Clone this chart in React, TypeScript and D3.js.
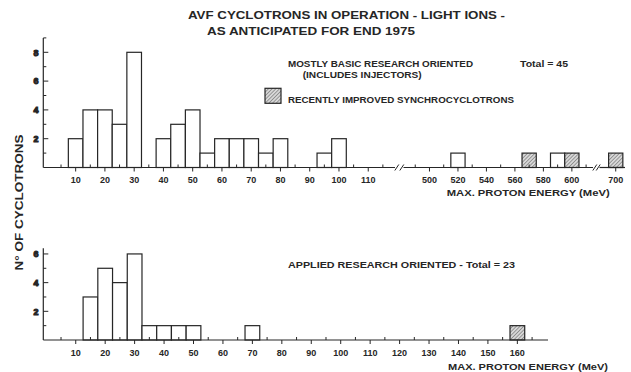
import * as d3 from 'd3';

// counts per energy bin
const topOpenEnergy = [10, 15, 20, 25, 30, 40, 45, 50, 55, 60, 65, 70, 75, 80, 95, 100, 520, 590];
const topOpenCount = [2, 4, 4, 3, 8, 2, 3, 4, 1, 2, 2, 2, 1, 2, 1, 2, 1, 1];
const topHatchEnergy = [570, 600, 700];
const topHatchCount = [1, 1, 1];

const botOpenEnergy = [15, 20, 25, 30, 35, 40, 45, 50, 70];
const botOpenCount = [3, 5, 4, 6, 1, 1, 1, 1, 1];
const botHatchEnergy = [160];
const botHatchCount = [1];

const topTickLabels = [10, 20, 30, 40, 50, 60, 70, 80, 90, 100, 110, 500, 520, 540, 560, 580, 600, 700];
const botTickLabels = [10, 20, 30, 40, 50, 60, 70, 80, 90, 100, 110, 120, 130, 140, 150, 160];
const topYLabels = [2, 4, 6, 8];
const botYLabels = [2, 4, 6];

const ink = '#262626';
const font = '"Liberation Sans", Arial, sans-serif';

// broken axis: 0-120 | 480-610 | 690-
const xTop = d3.scaleLinear().domain([0, 120, 480, 610, 690, 712]).range([46.4, 397.5, 401, 586.1, 601.5, 632.8]);
const xBot = d3.scaleLinear().domain([0, 170]).range([46.3, 546.8]);
const yTop = d3.scaleLinear().domain([0, 9]).range([167.5, 37.9]);
const yBot = d3.scaleLinear().domain([0, 6.4]).range([340, 248.2]);

const binWidth = (e: number) => (e >= 480 ? 10 : 5);

const Txt = ({ x, y, len, size = 9, anchor = 'start', children }: any) => (
	<text
		x={x}
		y={y}
		textLength={len}
		lengthAdjust='spacingAndGlyphs'
		textAnchor={anchor}
		fontFamily={font}
		fontWeight={700}
		fontSize={size}
		fill={ink}>
		{children}
	</text>
);

const Bars = ({ energy, count, x, y, hatch }: any) => (
	<g>
		{energy.map((e: number, i: number) => {
			const w = binWidth(e);
			const x0 = x(e - w / 2);
			const x1 = x(e + w / 2);
			return (
				<rect
					key={i}
					x={x0}
					y={y(count[i])}
					width={x1 - x0}
					height={y(0) - y(count[i])}
					fill={hatch ? 'url(#hatch)' : 'white'}
					stroke={ink}
					strokeWidth={1.2}
				/>
			);
		})}
	</g>
);

const YAxis = ({ y, max, labels }: any) => {
	const x0 = 43.3;
	const ticks = d3.range(1, Math.floor(max) + 1);
	return (
		<g stroke={ink}>
			<line x1={x0} x2={x0} y1={y(0)} y2={y(max)} strokeWidth={1.2} />
			{ticks.map((t: number) => (
				<line key={t} x1={x0} x2={x0 + (t % 2 === 0 ? 5 : 3)} y1={y(t)} y2={y(t)} strokeWidth={1} />
			))}
			{labels.map((t: number) => (
				<Txt key={'l' + t} x={38.5} y={y(t) + 3.3} anchor='end' size={9}>
					{t}
				</Txt>
			))}
		</g>
	);
};

const Slash = ({ x, y }: any) => <line x1={x - 2} x2={x + 2} y1={y + 3} y2={y - 3} stroke={ink} strokeWidth={1} />;

export default function App() {
	const yT0 = yTop(0);
	const yB0 = yBot(0);

	const topMinor = [...d3.range(5, 120, 5), ...d3.range(490, 611, 10)].filter((t) => !topTickLabels.includes(t));
	const botMinor = d3.range(5, 170, 5).filter((t) => !botTickLabels.includes(t));

	return (
		<svg width={631} height={372} style={{ position: 'absolute', left: 0, top: 0, background: 'white' }}>
			<defs>
				<pattern id='hatch' width={2.6} height={2.6} patternUnits='userSpaceOnUse' patternTransform='rotate(45)'>
					<rect width={2.6} height={2.6} fill='#d8d8d8' />
					<line x1={0} y1={0} x2={0} y2={2.6} stroke='#555' strokeWidth={1} />
				</pattern>
			</defs>

			{/* title */}
			<Txt x={188} y={19} len={317} size={10.5}>AVF CYCLOTRONS IN OPERATION - LIGHT IONS -</Txt>
			<Txt x={207} y={34.5} len={208} size={10.5}>AS ANTICIPATED FOR END 1975</Txt>

			{/* y label */}
			<g transform='translate(22.5, 202.5) rotate(-90)'>
				<Txt x={0} y={0} len={136} size={11.5} anchor='middle'>N° OF CYCLOTRONS</Txt>
			</g>

			{/* top panel */}
			<Bars energy={topOpenEnergy} count={topOpenCount} x={xTop} y={yTop} />
			<Bars energy={topHatchEnergy} count={topHatchCount} x={xTop} y={yTop} hatch />
			<YAxis y={yTop} max={9} labels={topYLabels} />
			<g stroke={ink}>
				<line x1={43.3} x2={395} y1={yT0} y2={yT0} strokeWidth={1.2} />
				<line x1={403.5} x2={593} y1={yT0} y2={yT0} strokeWidth={1.2} />
				<line x1={599.5} x2={625} y1={yT0} y2={yT0} strokeWidth={1.2} />
				{topTickLabels.map((t) => (
					<line key={t} x1={xTop(t)} x2={xTop(t)} y1={yT0} y2={yT0 + 4} strokeWidth={1} />
				))}
				{topMinor.map((t) => (
					<line key={'m' + t} x1={xTop(t)} x2={xTop(t)} y1={yT0} y2={yT0 - 3} strokeWidth={1} />
				))}
			</g>
			<Slash x={396.8} y={yT0} />
			<Slash x={401.8} y={yT0} />
			<Slash x={594.8} y={yT0} />
			<Slash x={598.2} y={yT0} />
			{topTickLabels.map((t) => (
				<Txt key={t} x={xTop(t)} y={182.7} anchor='middle' size={9}>
					{t}
				</Txt>
			))}
			<Txt x={446.7} y={195.5} len={163} size={9}>MAX. PROTON ENERGY (MeV)</Txt>

			<Txt x={288} y={67.3} len={185} size={9}>MOSTLY BASIC RESEARCH ORIENTED</Txt>
			<Txt x={520} y={67.3} len={48} size={9}>Total = 45</Txt>
			<Txt x={302.7} y={77.6} len={119} size={9}>(INCLUDES INJECTORS)</Txt>
			<rect x={265} y={88.3} width={16} height={15} fill='url(#hatch)' stroke={ink} strokeWidth={1.2} />
			<Txt x={288} y={102.7} len={226} size={9}>RECENTLY IMPROVED SYNCHROCYCLOTRONS</Txt>

			{/* bottom panel */}
			<Bars energy={botOpenEnergy} count={botOpenCount} x={xBot} y={yBot} />
			<Bars energy={botHatchEnergy} count={botHatchCount} x={xBot} y={yBot} hatch />
			<YAxis y={yBot} max={6.4} labels={botYLabels} />
			<g stroke={ink}>
				<line x1={43.3} x2={548} y1={yB0} y2={yB0} strokeWidth={1.2} />
				{botTickLabels.map((t) => (
					<line key={t} x1={xBot(t)} x2={xBot(t)} y1={yB0} y2={yB0 + 4} strokeWidth={1} />
				))}
				{botMinor.map((t) => (
					<line key={'m' + t} x1={xBot(t)} x2={xBot(t)} y1={yB0} y2={yB0 - 3} strokeWidth={1} />
				))}
			</g>
			{botTickLabels.map((t) => (
				<Txt key={t} x={xBot(t)} y={355.5} anchor='middle' size={9}>
					{t}
				</Txt>
			))}
			<Txt x={448} y={370} len={160} size={9}>MAX. PROTON ENERGY (MeV)</Txt>
			<Txt x={288} y={268.3} len={227} size={9}>APPLIED RESEARCH ORIENTED - Total = 23</Txt>
		</svg>
	);
}
